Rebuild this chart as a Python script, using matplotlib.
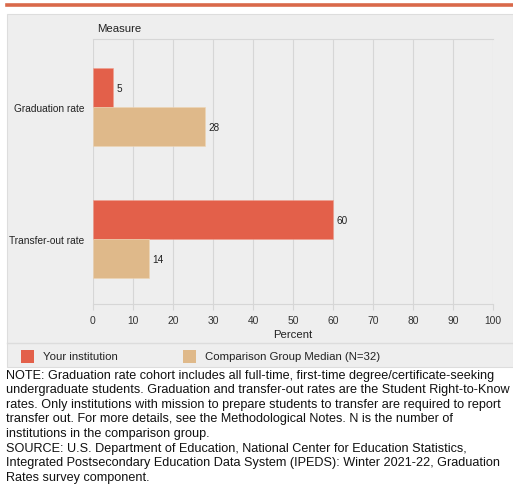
import matplotlib
matplotlib.use("Agg")
import matplotlib.pyplot as plt
from matplotlib.patches import Rectangle
from matplotlib.lines import Line2D

plt.rcParams["font.family"] = ["Liberation Sans", "DejaVu Sans"]

# Dados
medidas = ["Graduation rate", "Transfer-out rate"]
instituicao = [5, 60]
mediana = [28, 14]
series_nomes = ["Your institution", "Comparison Group Median (N=32)"]
ticks_x = [0, 10, 20, 30, 40, 50, 60, 70, 80, 90, 100]

VERM = "#e3604a"
AREIA = "#dfb98a"
FUNDO = "#eeeeee"
GRADE = "#d6d6d6"
LARANJA = "#d9694a"

W, H = 513, 489
fig = plt.figure(figsize=(W / 100, H / 100), dpi=100)

def fx(px):
    return px / W

def fy(py):
    return 1 - py / H

# faixa laranja do topo
fig.add_artist(Line2D([fx(7), 1], [fy(5.5), fy(5.5)], color=LARANJA, lw=2.6,
                      transform=fig.transFigure))
# painel cinza
fig.add_artist(Rectangle((fx(7), fy(368)), 1 - fx(7), fy(15) - fy(368),
                         transform=fig.transFigure, facecolor=FUNDO,
                         edgecolor="#dddddd", lw=0.8, zorder=0))
# separador da legenda
fig.add_artist(Line2D([fx(7), 1], [fy(344), fy(344)], color="#dcdcdc", lw=1.0,
                      transform=fig.transFigure))

ax = fig.add_axes([fx(93), fy(305), fx(493) - fx(93), fy(40) - fy(305)])
ax.set_facecolor(FUNDO)
ax.patch.set_alpha(0)

h = 0.295
pos = list(range(len(medidas)))
ax.barh([p - h / 2 for p in pos], instituicao, height=h, color=VERM,
        edgecolor="#f0a090", lw=0.4, zorder=3)
ax.barh([p + h / 2 for p in pos], mediana, height=h, color=AREIA,
        edgecolor="#eed5b5", lw=0.4, zorder=3)

for p, v in zip(pos, instituicao):
    ax.text(v + 0.8, p - h / 2, str(v), va="center", ha="left", fontsize=7.2,
            color="#222222")
for p, v in zip(pos, mediana):
    ax.text(v + 0.8, p + h / 2, str(v), va="center", ha="left", fontsize=7.2,
            color="#222222")

ax.set_xlim(0, 100)
ax.set_ylim(1.49, -0.515)
ax.set_xticks(ticks_x)
ax.set_xticklabels([str(t) for t in ticks_x], fontsize=7.4, color="#333333")
ax.set_yticks(pos)
ax.set_yticklabels(medidas, fontsize=7.3, color="#222222")
ax.tick_params(axis="y", length=0, pad=6)
ax.tick_params(axis="x", length=4, width=0.8, color=GRADE, pad=4)

ax.grid(axis="x", color=GRADE, lw=0.8, zorder=0)
ax.set_axisbelow(True)
for s in ["left", "right"]:
    ax.spines[s].set_visible(False)
for s in ["top", "bottom"]:
    ax.spines[s].set_color(GRADE)
    ax.spines[s].set_linewidth(0.8)

ax.set_xlabel("Percent", fontsize=8.2, color="#222222", labelpad=3)
fig.text(fx(97), fy(29), "Measure", fontsize=8.2, va="center", ha="left",
         color="#222222")

# legenda manual
for cor, nome, x0 in zip([VERM, AREIA], series_nomes, [21, 183]):
    fig.add_artist(Rectangle((fx(x0), fy(364)), fx(13), fy(351) - fy(364),
                             transform=fig.transFigure, facecolor=cor,
                             edgecolor="none"))
    fig.text(fx(x0 + 22), fy(357.5), nome, fontsize=8.2, va="center", ha="left",
             color="#222222")

nota = ("NOTE: Graduation rate cohort includes all full-time, first-time degree/certificate-seeking\n"
        "undergraduate students. Graduation and transfer-out rates are the Student Right-to-Know\n"
        "rates. Only institutions with mission to prepare students to transfer are required to report\n"
        "transfer out. For more details, see the Methodological Notes. N is the number of\n"
        "institutions in the comparison group.")
fonte = ("SOURCE: U.S. Department of Education, National Center for Education Statistics,\n"
         "Integrated Postsecondary Education Data System (IPEDS): Winter 2021-22, Graduation\n"
         "Rates survey component.")
fig.text(fx(6), fy(370), nota, fontsize=9.1, va="top", ha="left",
         linespacing=1.27, color="#111111")
fig.text(fx(6), fy(443), fonte, fontsize=9.1, va="top", ha="left",
         linespacing=1.27, color="#111111")

fig.savefig("out.png", dpi=100, facecolor="white")
